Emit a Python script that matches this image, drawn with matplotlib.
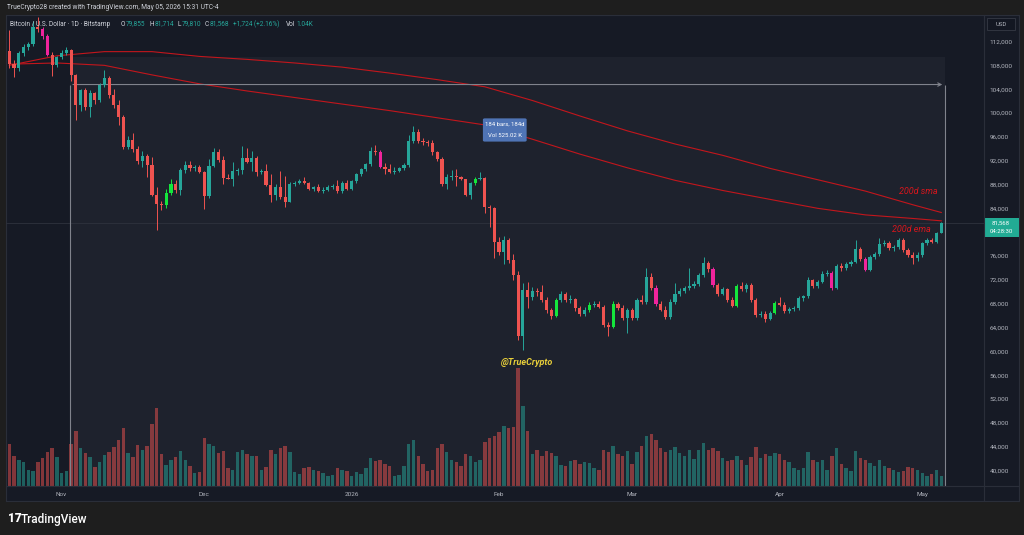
import numpy as np
import pandas as pd
import matplotlib
matplotlib.use('Agg')
import matplotlib.pyplot as plt
from matplotlib.patches import Rectangle, FancyBboxPatch
from matplotlib.ticker import FuncFormatter

plt.rcParams['font.family'] = ['Roboto', 'DejaVu Sans']

# ---- data (prices in thousand USD, volume in thousand BTC) ----
start_date = '2025-10-21'

opens_k = [110.4, 108.3, 107.5, 110.0, 111.0, 111.5, 114.4, 114.1, 112.9, 109.8,
           108.1, 109.4, 110.0, 110.5, 106.3, 101.3, 103.8, 101.0, 103.3, 102.1,
           104.7, 105.8, 103.0, 101.4, 99.3, 94.3, 95.4, 94.0, 91.9, 92.7,
           91.2, 86.2, 84.8, 84.5, 86.6, 88.0, 87.0, 90.4, 91.2, 90.7,
           90.9, 90.1, 86.0, 91.1, 93.5, 92.1, 89.1, 89.0, 90.3, 90.5,
           92.5, 91.8, 92.4, 90.1, 90.2, 87.9, 86.2, 87.6, 85.9, 85.1,
           88.0, 88.3, 88.6, 88.2, 87.2, 87.5, 86.9, 87.1, 87.5, 87.7,
           86.9, 88.3, 87.3, 88.6, 89.8, 90.6, 91.4, 93.7, 93.5, 91.0,
           90.6, 90.1, 90.3, 90.7, 91.2, 95.3, 96.8, 95.3, 95.1, 94.9,
           93.4, 92.3, 88.0, 89.3, 89.4, 89.2, 88.9, 86.3, 88.2, 88.9,
           89.1, 84.2, 84.0, 78.4, 76.7, 78.6, 75.4, 72.8, 62.6, 70.3,
           69.1, 70.2, 69.9, 68.6, 66.9, 66.0, 68.6, 69.6, 68.6, 68.8,
           67.2, 66.3, 66.9, 67.8, 68.0, 67.5, 64.4, 64.1, 67.9, 67.3,
           65.6, 66.9, 65.6, 68.6, 68.2, 72.5, 70.7, 67.9, 67.0, 65.8,
           68.3, 69.7, 70.2, 70.6, 71.0, 71.3, 72.8, 74.8, 73.8, 71.1,
           69.7, 70.4, 68.6, 67.6, 70.9, 70.4, 71.1, 68.6, 66.1, 66.3,
           65.5, 66.5, 68.1, 67.8, 66.7, 67.1, 67.3, 68.9, 69.2, 71.9,
           71.0, 71.7, 73.0, 73.1, 70.6, 74.3, 73.9, 74.6, 75.0, 77.1,
           75.5, 73.7, 75.8, 76.3, 78.0, 78.2, 77.3, 77.5, 78.6, 77.0,
           76.2, 75.6, 76.2, 78.1, 78.7, 78.4, 79.855]

highs_k = [113.9, 108.9, 110.4, 111.6, 111.9, 115.5, 116.1, 114.4, 113.2, 110.3,
           109.6, 110.6, 111.0, 110.8, 106.6, 104.0, 104.2, 103.8, 103.6, 105.0,
           107.2, 106.2, 104.0, 102.2, 99.6, 96.2, 96.6, 94.5, 93.6, 93.2,
           92.6, 87.5, 85.3, 87.2, 89.0, 88.7, 90.8, 92.0, 91.9, 91.3,
           91.3, 90.3, 92.2, 94.1, 94.0, 92.7, 89.8, 91.7, 90.8, 94.5,
           94.2, 93.6, 92.7, 90.6, 91.4, 89.8, 88.1, 90.2, 89.4, 88.5,
           88.6, 89.0, 89.2, 88.5, 87.8, 88.1, 87.6, 87.9, 88.0, 88.7,
           88.6, 88.7, 88.8, 90.0, 90.8, 91.6, 94.3, 94.6, 93.8, 91.6,
           91.5, 90.9, 91.0, 91.6, 96.3, 97.9, 97.3, 95.8, 95.5, 95.4,
           93.7, 92.6, 89.7, 90.5, 90.6, 89.4, 89.0, 88.4, 89.3, 90.1,
           89.3, 84.6, 84.3, 79.2, 79.4, 79.0, 76.3, 73.4, 71.4, 71.7,
           70.8, 70.6, 71.2, 69.1, 67.3, 69.0, 70.1, 70.0, 69.5, 69.0,
           67.6, 67.4, 68.3, 68.5, 68.4, 67.8, 64.9, 68.4, 68.3, 67.8,
           67.3, 67.2, 69.0, 69.4, 73.9, 73.2, 71.2, 68.4, 67.6, 68.7,
           71.5, 70.6, 71.0, 73.9, 71.8, 73.2, 75.9, 75.2, 74.1, 71.5,
           70.8, 70.7, 69.1, 71.3, 71.7, 71.4, 71.5, 68.9, 66.7, 66.8,
           66.8, 68.5, 69.1, 68.2, 67.4, 67.6, 69.2, 69.4, 72.5, 72.2,
           72.0, 73.5, 73.6, 73.4, 74.7, 74.8, 75.0, 75.4, 78.6, 77.5,
           75.8, 76.1, 76.6, 79.1, 78.6, 78.5, 77.8, 79.0, 79.1, 77.4,
           76.6, 76.6, 78.4, 79.0, 79.1, 80.0, 81.714]

lows_k = [107.6, 106.1, 107.0, 109.6, 110.5, 111.2, 113.6, 112.5, 109.6, 106.2,
          107.8, 109.0, 109.8, 105.3, 98.9, 100.3, 100.5, 99.3, 101.5, 101.8,
          104.4, 102.6, 100.8, 98.0, 94.0, 94.0, 93.5, 91.4, 91.0, 89.2,
          86.0, 80.3, 83.8, 84.0, 86.2, 86.5, 86.3, 90.0, 90.3, 90.2,
          89.9, 83.9, 85.7, 90.9, 91.7, 88.1, 88.9, 87.8, 89.6, 89.8,
          91.6, 90.3, 89.4, 89.8, 87.8, 85.1, 85.4, 85.6, 84.2, 85.0,
          87.7, 88.1, 88.0, 87.0, 86.9, 86.7, 86.6, 86.9, 87.2, 86.5,
          86.6, 87.1, 87.0, 88.3, 89.5, 90.3, 91.1, 92.9, 90.7, 89.7,
          89.9, 89.8, 90.1, 90.4, 90.9, 95.0, 95.0, 94.7, 94.5, 92.9,
          92.0, 87.7, 87.2, 88.8, 87.8, 88.7, 86.0, 85.6, 87.9, 88.7,
          83.2, 80.9, 75.6, 76.2, 74.6, 74.9, 72.0, 61.9, 60.2, 67.2,
          68.6, 69.2, 68.2, 66.4, 65.5, 65.8, 68.2, 68.2, 68.1, 66.8,
          65.9, 66.0, 66.6, 67.4, 67.2, 64.1, 62.5, 63.9, 66.9, 65.2,
          63.0, 65.3, 65.2, 67.9, 68.0, 70.3, 67.6, 66.7, 65.4, 65.5,
          68.0, 69.3, 69.8, 70.3, 70.6, 70.9, 72.5, 73.3, 70.8, 69.3,
          69.4, 68.2, 67.4, 67.4, 70.2, 70.0, 68.3, 65.8, 65.7, 65.0,
          65.2, 66.2, 67.6, 66.5, 66.4, 66.8, 67.0, 68.5, 68.9, 70.7,
          70.6, 71.4, 72.6, 70.3, 70.4, 73.5, 73.6, 74.3, 74.8, 75.2,
          73.4, 73.4, 75.5, 76.0, 77.7, 77.0, 76.9, 77.2, 76.7, 75.9,
          74.7, 75.2, 75.9, 77.8, 78.1, 78.1, 79.810]

closes_k = [108.3, 107.5, 110.0, 111.0, 111.5, 114.4, 114.1, 112.9, 109.8, 108.1,
            109.4, 110.0, 110.5, 106.3, 101.3, 103.8, 101.0, 103.3, 102.1, 104.7,
            105.8, 103.0, 101.4, 99.3, 94.3, 95.4, 94.0, 91.9, 92.7, 91.2,
            86.2, 84.8, 84.5, 86.6, 88.0, 87.0, 90.4, 91.2, 90.7, 90.9,
            90.1, 86.0, 91.1, 93.5, 92.1, 89.1, 89.0, 90.3, 90.5, 92.5,
            91.8, 92.4, 90.1, 90.2, 87.9, 86.2, 87.6, 85.9, 85.1, 88.0,
            88.3, 88.6, 88.2, 87.2, 87.5, 86.9, 87.1, 87.5, 87.7, 86.9,
            88.3, 87.3, 88.6, 89.8, 90.6, 91.4, 93.7, 93.5, 91.0, 90.6,
            90.1, 90.3, 90.7, 91.2, 95.3, 96.8, 95.3, 95.1, 94.9, 93.4,
            92.3, 88.0, 89.3, 89.4, 89.2, 88.9, 86.3, 88.2, 88.9, 89.1,
            84.2, 84.0, 78.4, 76.7, 78.6, 75.4, 72.8, 62.6, 70.3, 69.1,
            70.2, 69.9, 68.6, 66.9, 66.0, 68.6, 69.6, 68.6, 68.8, 67.2,
            66.3, 66.9, 67.8, 68.0, 67.5, 64.4, 64.1, 67.9, 67.3, 65.6,
            66.9, 65.6, 68.6, 68.2, 72.5, 70.7, 67.9, 67.0, 65.8, 68.3,
            69.7, 70.2, 70.6, 71.0, 71.3, 72.8, 74.8, 73.8, 71.1, 69.7,
            70.4, 68.6, 67.6, 70.9, 70.4, 71.1, 68.6, 66.1, 66.3, 65.5,
            66.5, 68.1, 67.8, 66.7, 67.1, 67.3, 68.9, 69.2, 71.9, 71.0,
            71.7, 73.0, 73.1, 70.6, 74.3, 73.9, 74.6, 75.0, 77.1, 75.5,
            73.7, 75.8, 76.3, 78.0, 78.2, 77.3, 77.5, 78.6, 77.0, 76.2,
            75.6, 76.2, 78.1, 78.7, 78.4, 79.84, 81.568]

volume_k = [4.2, 3.0, 2.6, 2.4, 1.6, 1.5, 2.4, 2.8, 3.4, 3.8, 2.9,
            1.3, 1.5, 4.2, 5.5, 3.8, 3.3, 2.9, 1.9, 2.4, 3.1,
            3.4, 3.9, 4.6, 5.8, 3.3, 2.9, 4.1, 3.6, 4.0, 6.2,
            7.8, 3.2, 2.1, 2.6, 2.9, 3.5, 2.6, 2.0, 1.3, 1.4,
            4.8, 4.2, 4.0, 3.3, 3.5, 1.8, 1.6, 3.4, 3.6, 3.2,
            3.0, 3.0, 1.6, 1.9, 3.6, 3.2, 3.8, 4.0, 3.4, 1.4,
            1.2, 1.8, 1.9, 1.6, 1.5, 1.3, 1.0, 1.1, 1.8, 1.6, 1.5,
            1.0, 1.4, 1.2, 1.8, 2.8, 2.5, 2.6, 2.2, 2.0, 1.0, 1.1,
            2.0, 4.2, 4.6, 3.0, 2.2, 1.5, 1.6, 3.8, 4.2, 3.4,
            2.6, 2.4, 2.0, 3.2, 3.0, 2.4, 2.6, 4.4, 4.8, 5.0,
            5.4, 6.0, 5.8, 5.9, 11.8, 8.0, 5.5, 3.2, 3.6, 3.0,
            3.5, 3.3, 3.0, 2.1, 2.0, 2.5, 2.6, 2.2, 2.4, 2.3,
            1.8, 1.6, 3.6, 3.4, 4.0, 3.2, 3.0, 3.5,
            2.2, 3.4, 4.0, 5.0, 5.2, 4.6, 3.8, 3.4, 3.6, 3.9,
            3.3, 3.0, 3.6, 2.7, 3.6, 4.3, 3.6, 3.8, 3.5, 2.8,
            2.5, 2.6, 3.0, 2.6, 2.1, 2.9, 3.9, 2.8, 3.2, 3.0, 3.3,
            3.2, 2.6, 2.4, 1.8, 1.6, 1.8, 3.4, 2.6, 2.4, 2.6,
            1.6, 3.0, 3.8, 2.2, 1.8, 1.5, 3.5, 2.8, 2.6, 2.3,
            2.0, 2.6, 2.0, 1.8, 1.6, 1.4, 1.5, 1.9, 1.8, 1.6,
            1.3, 1.0, 1.2, 1.6, 1.04]

magenta_days = [7, 8, 78, 136, 148, 173, 180]
lime_days = [33, 34, 98, 115, 122, 127, 153, 161]

ma_days = [0, 10, 20, 30, 40, 50, 60, 70, 80, 90, 100, 110, 120, 130, 140, 150, 160, 170, 180, 190, 196]
sma_200_k = [108.0, 109.6, 110.3, 110.3, 109.5, 109.0, 108.4, 107.7, 106.7, 105.6, 104.4,
             102.1, 99.5, 97.0, 94.8, 92.9, 90.7, 88.8, 86.9, 84.6, 83.3]
ema_200_k = [108.2, 108.4, 108.0, 106.4, 104.9, 103.7, 102.6, 101.5, 100.4, 99.2, 98.0,
             95.6, 93.1, 90.8, 88.7, 87.0, 85.5, 84.0, 82.9, 82.3, 81.9]

month_dates = ['2025-11-01', '2025-12-01', '2026-01-01', '2026-02-01', '2026-03-01', '2026-04-01', '2026-05-01']
month_labels = ['Nov', 'Dec', '2026', 'Feb', 'Mar', 'Apr', 'May']
price_ticks_k = [40, 44, 48, 52, 56, 60, 64, 68, 72, 76, 84, 88, 92, 96, 100, 104, 108, 112]

range_start_day, range_end_day = 12.8, 196.8
range_top_k, range_arrow_k = 109.4, 104.78

# ---- colours ----
page_bg = '#1e1e1e'
pane_bg = '#161a25'
range_bg = '#1e222d'
up_col = '#26a69a'
down_col = '#ef5350'
mag_col = '#f0249c'
lime_col = '#14e63c'
ma_col = '#c3161c'
axis_txt = '#b2b5be'

W, H = 1024, 535


def fx(px):
    return px / W


def fy(py):
    return 1 - py / H


fig = plt.figure(figsize=(W / 100, H / 100), dpi=100, facecolor=page_bg)

# pane background
bg = fig.add_axes([fx(6), fy(501), fx(1019) - fx(6), fy(15) - fy(501)])
bg.set_facecolor(pane_bg)
bg.set_xticks([])
bg.set_yticks([])
for s in bg.spines.values():
    s.set_color('#2a2e39')
    s.set_linewidth(0.8)

rect = [fx(6), fy(486), fx(984) - fx(6), fy(15) - fy(486)]
vax = fig.add_axes(rect)
ax = fig.add_axes(rect)
for a in (vax, ax):
    a.patch.set_visible(False)
    for s in a.spines.values():
        s.set_visible(False)

n = len(closes_k)
dates = pd.date_range(start_date, periods=n)
x = np.arange(n)
o = np.array(opens_k)
h = np.array(highs_k)
l = np.array(lows_k)
c = np.array(closes_k)

xlim = (-0.69, 204.98)
ylim = (37.39, 116.45)
ax.set_xlim(*xlim)
ax.set_ylim(*ylim)
vax.set_xlim(*xlim)
vax.set_ylim(0, 47.1)
vax.set_xticks([])
vax.set_yticks([])

# measurement range shading (behind the volume bars)
vax.add_patch(Rectangle((range_start_day, ylim[0]), range_end_day - range_start_day,
                        range_top_k - ylim[0], facecolor=range_bg, edgecolor='none',
                        zorder=0, transform=ax.transData))

# colours per candle
cols = np.where(c >= o, up_col, down_col).astype(object)
for d in magenta_days:
    cols[d] = mag_col
for d in lime_days:
    cols[d] = lime_col
vcols = np.where(c >= o, up_col, down_col)

# volume
vax.bar(x, volume_k, width=0.72, color=vcols, alpha=0.5, linewidth=0, zorder=1)

# candles
ax.vlines(x, l, h, colors=list(cols), linewidth=0.7, zorder=3)
body_lo = np.minimum(o, c)
body_h = np.maximum(np.abs(c - o), 0.12)
ax.bar(x, body_h, bottom=body_lo, width=0.66, color=list(cols), linewidth=0, zorder=4)

# moving averages
ax.plot(ma_days, sma_200_k, color=ma_col, lw=0.8, zorder=2)
ax.plot(ma_days, ema_200_k, color=ma_col, lw=0.8, zorder=2)

# current price line
ax.axhline(closes_k[-1], color='#2e323d', lw=0.6, zorder=1)

# date range tool
ax.vlines([range_start_day, range_end_day], ylim[0], range_arrow_k, color='#80838c', lw=0.8, zorder=2)
ax.annotate('', xy=(range_end_day, range_arrow_k), xytext=(range_start_day, range_arrow_k),
            arrowprops=dict(arrowstyle='->', color='#80838c', lw=0.8, mutation_scale=6), zorder=2)
ax.add_patch(FancyBboxPatch((99.6, 95.2), 9.2, 3.9, boxstyle='round,pad=0,rounding_size=0.4',
                            facecolor='#4f74b5', edgecolor='none', zorder=6, mutation_aspect=0.5))
ax.text(104.2, 98.1, '184 bars, 184d', color='white', fontsize=4.3, ha='center', va='center', zorder=7)
ax.text(104.2, 96.2, 'Vol 525.02 K', color='white', fontsize=4.3, ha='center', va='center', zorder=7)

# annotations
ax.text(191.1, 86.9, '200d sma', color='#d8161c', fontsize=6.5, style='italic', ha='center', va='center', zorder=6)
ax.text(189.8, 80.5, '200d ema', color='#d8161c', fontsize=6.5, style='italic', ha='center', va='center', zorder=6)
ax.text(108.9, 58.2, '@TrueCrypto', color='#e8cf3a', fontsize=6.5, style='italic', weight='bold',
        ha='center', va='center', zorder=6)

# axes ticks
ax.yaxis.tick_right()
ax.set_yticks(price_ticks_k)
ax.yaxis.set_major_formatter(FuncFormatter(lambda v, _: f'{v * 1000:,.0f}'))
ax.tick_params(axis='y', length=0, pad=4, labelsize=4.6, labelcolor=axis_txt)
tick_pos = [(pd.Timestamp(d) - dates[0]).days for d in month_dates]
ax.set_xticks(tick_pos)
ax.set_xticklabels(month_labels)
ax.tick_params(axis='x', length=0, pad=4, labelsize=4.6, labelcolor=axis_txt)

# separators
fig.add_artist(plt.Line2D([fx(984), fx(984)], [fy(15), fy(501)], color='#2a2e39', lw=0.8))
fig.add_artist(plt.Line2D([fx(6), fx(1019)], [fy(486), fy(486)], color='#2a2e39', lw=0.8))

# USD box and last price tag
fig.add_artist(Rectangle((fx(987), fy(30)), fx(28), fy(0) - fy(12), facecolor='#131722',
                         edgecolor='#363a45', lw=0.6))
fig.text(fx(1001), fy(24), 'USD', color=axis_txt, fontsize=4.3, ha='center', va='center')
fig.add_artist(Rectangle((fx(985), fy(237)), fx(34), fy(0) - fy(19), facecolor='#22ab94',
                         edgecolor='none'))
fig.text(fx(1001), fy(223), '81,568', color='white', fontsize=4.3, ha='center', va='center')
fig.text(fx(1001), fy(231), '04:28:30', color='white', fontsize=4.3, ha='center', va='center')

# header texts
fig.text(fx(7), fy(7.5), 'TrueCrypto28 created with TradingView.com, May 05, 2026 15:31 UTC-4',
         color='#d1d4dc', fontsize=4.8, va='center')
legend_parts = [(10, 'Bitcoin / U.S. Dollar · 1D · Bitstamp', '#d1d4dc'),
                (121, 'O', '#d1d4dc'), (126, '79,855', up_col),
                (150, 'H', '#d1d4dc'), (155, '81,714', up_col),
                (178, 'L', '#d1d4dc'), (182, '79,810', up_col),
                (205, 'C', '#d1d4dc'), (210, '81,568', up_col),
                (233, '+1,724 (+2.16%)', up_col),
                (286, 'Vol', '#d1d4dc'), (296, '1.04K', up_col)]
for px, s, col in legend_parts:
    fig.text(fx(px), fy(24), s, color=col, fontsize=4.7, va='center')

# footer logo
fig.text(fx(8), fy(519), '17', color='white', fontsize=8.5, weight='heavy', va='center')
fig.text(fx(21), fy(519), 'TradingView', color='white', fontsize=8.5, weight='medium', va='center')

fig.savefig('out.png', dpi=100, facecolor=page_bg)
